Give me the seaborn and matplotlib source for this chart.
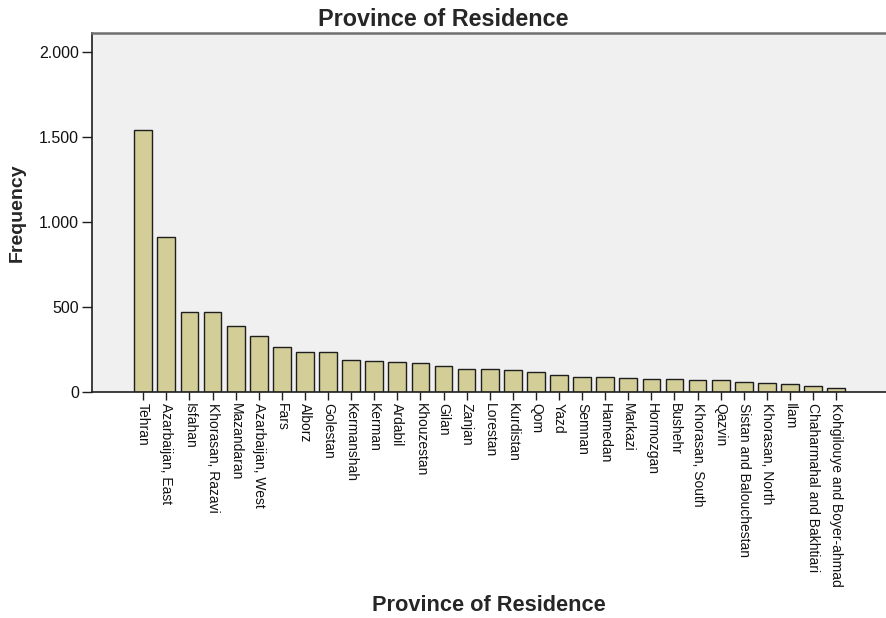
import pandas as pd
import matplotlib
matplotlib.use('Agg')
import matplotlib.pyplot as plt
import seaborn as sns
from matplotlib.ticker import FuncFormatter, FixedLocator

# Province frequencies
provinces = ['Tehran', 'Azarbaijan, East', 'Isfahan', 'Khorasan, Razavi', 'Mazandaran',
             'Azarbaijan, West', 'Fars', 'Alborz', 'Golestan', 'Kermanshah', 'Kerman',
             'Ardabil', 'Khouzestan', 'Gilan', 'Zanjan', 'Lorestan', 'Kurdistan', 'Qom',
             'Yazd', 'Semnan', 'Hamedan', 'Markazi', 'Hormozgan', 'Bushehr',
             'Khorasan, South', 'Qazvin', 'Sistan and Balouchestan', 'Khorasan, North',
             'Ilam', 'Chaharmahal and Bakhtiari', 'Kohgilouye and Boyer-ahmad']
frequency = [1542, 913, 468, 468, 389, 326, 265, 234, 234, 187, 179,
             173, 172, 152, 134, 134, 126, 118, 100, 88, 87, 81, 75, 73,
             67, 67, 55, 49, 45, 35, 22]
yticks = [0, 500, 1000, 1500, 2000]

df = pd.DataFrame({'province': provinces, 'freq': frequency})

sns.set_theme(style='ticks')
plt.rcParams['font.family'] = ['Liberation Sans', 'DejaVu Sans']

fig = plt.figure(figsize=(8.87, 6.18), dpi=100)
ax = fig.add_axes([0.1034, 0.366, 0.8966, 0.580])
ax.set_facecolor('#f0f0f0')

sns.barplot(data=df, x='province', y='freq', color='#d3ce98', saturation=1,
            edgecolor='#1e1e1e', linewidth=1.0, width=0.77, ax=ax)

ax.set_xlim(-2.23, 32.2)
ax.set_ylim(0, 2112)
ax.yaxis.set_major_locator(FixedLocator(yticks))
ax.yaxis.set_major_formatter(FuncFormatter(lambda v, p: f'{int(v):,}'.replace(',', '.')))

ax.tick_params(axis='x', labelrotation=270, labelsize=10, length=6, width=1,
               pad=2, color='#1e1e1e', labelcolor='#111111')
ax.tick_params(axis='y', labelsize=11.5, length=7, width=1, pad=2,
               color='#1e1e1e', labelcolor='#111111')
for lab in ax.get_xticklabels():
    lab.set_va('top')
    lab.set_ha('center')

for s in ['left', 'bottom']:
    ax.spines[s].set_color('#1e1e1e')
    ax.spines[s].set_linewidth(1.2)
ax.spines['top'].set_color('#707070')
ax.spines['top'].set_linewidth(1.8)
ax.spines['right'].set_visible(False)

ax.set_ylabel('Frequency', fontsize=14, fontweight='bold', va='center')
ax.yaxis.set_label_coords(-0.0933, 0.5)
ax.set_xlabel('Province of Residence', fontsize=15.7, fontweight='bold', va='center')
ax.xaxis.set_label_coords(0.5, -0.595)

fig.text(0.5, 1 - 19 / 618, 'Province of Residence', ha='center', va='center',
         fontsize=16.8, fontweight='bold')

fig.savefig('out.png', dpi=100)
